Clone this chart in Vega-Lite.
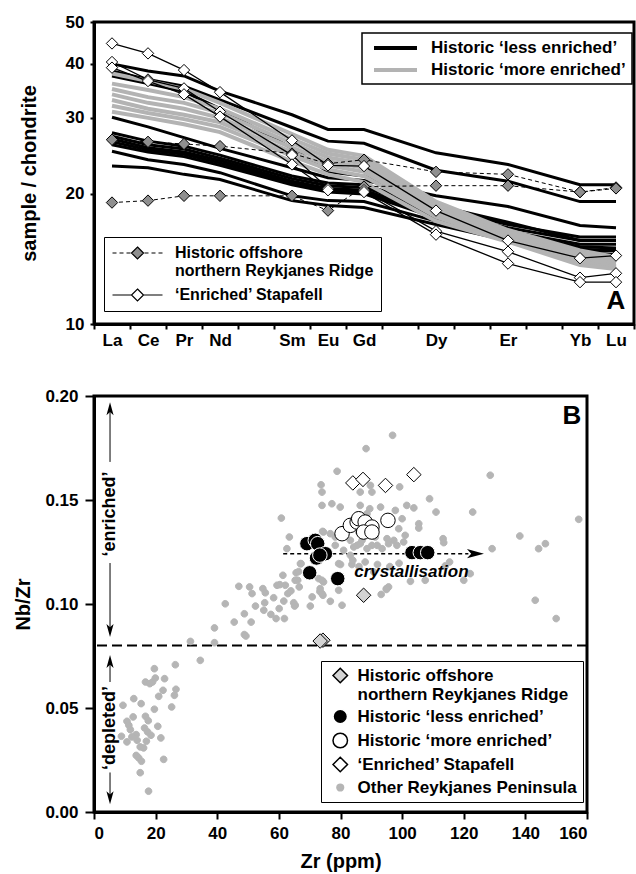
{
  "$schema": "https://vega.github.io/schema/vega-lite/v6.json",
  "background": "white",
  "padding": {"left": 12, "top": 11, "right": 0, "bottom": 2},
  "bounds": "flush",
  "spacing": 72,
  "resolve": {
    "scale": {"color": "independent", "fill": "independent", "shape": "independent", "stroke": "independent"},
    "legend": {"color": "independent", "fill": "independent", "shape": "independent", "stroke": "independent"}
  },
  "config": {
    "font": "Liberation Sans",
    "view": {"stroke": "black", "strokeWidth": 3},
    "axis": {"labelFont": "Liberation Sans", "labelFontWeight": "bold", "labelFontSize": 17, "labelColor": "black", "titleFont": "Liberation Sans", "titleFontWeight": "bold", "titleFontSize": 20, "titleColor": "black", "domainColor": "black", "domainWidth": 3, "tickColor": "black", "tickWidth": 2, "grid": false},
    "legend": {"labelFont": "Liberation Sans", "labelFontWeight": "bold", "labelFontSize": 17, "labelColor": "black", "strokeColor": "black", "labelLimit": 400}
  },
  "datasets": {
    "ree": [
      {"id": "B1", "g": "Historic ‘less enriched’", "La": 40.0, "Ce": 38.5, "Pr": 37.5, "Nd": 34.6, "Sm": 30.5, "Eu": 28.2, "Gd": 28.2, "Dy": 24.9, "Er": 23.4, "Yb": 21.0, "Lu": 21.0},
      {"id": "B2", "g": "Historic ‘less enriched’", "La": 38.5, "Ce": 36.8, "Pr": 35.5, "Nd": 33.0, "Sm": 28.5, "Eu": 26.5, "Gd": 26.2, "Dy": 22.7, "Er": 21.4, "Yb": 19.2, "Lu": 19.2},
      {"id": "B3", "g": "Historic ‘less enriched’", "La": 37.5, "Ce": 36.0, "Pr": 34.5, "Nd": 31.5, "Sm": 25.5, "Eu": 22.5, "Gd": 22.0, "Dy": 18.8, "Er": 17.2, "Yb": 15.6, "Lu": 15.6},
      {"id": "B4", "g": "Historic ‘less enriched’", "La": 30.1, "Ce": 28.6, "Pr": 27.0, "Nd": 25.5, "Sm": 23.0, "Eu": 21.8, "Gd": 21.5, "Dy": 19.8, "Er": 18.7, "Yb": 16.9, "Lu": 16.7},
      {"id": "B5", "g": "Historic ‘less enriched’", "La": 27.7, "Ce": 26.5, "Pr": 25.8, "Nd": 24.6, "Sm": 22.0, "Eu": 21.2, "Gd": 21.0, "Dy": 18.6, "Er": 17.0, "Yb": 15.9, "Lu": 15.9},
      {"id": "B6", "g": "Historic ‘less enriched’", "La": 27.2, "Ce": 26.0, "Pr": 25.4, "Nd": 24.2, "Sm": 21.7, "Eu": 20.9, "Gd": 20.7, "Dy": 18.3, "Er": 16.7, "Yb": 15.6, "Lu": 15.6},
      {"id": "B7", "g": "Historic ‘less enriched’", "La": 26.8, "Ce": 25.6, "Pr": 25.0, "Nd": 23.9, "Sm": 21.4, "Eu": 20.6, "Gd": 20.4, "Dy": 18.0, "Er": 16.4, "Yb": 15.3, "Lu": 15.3},
      {"id": "B8", "g": "Historic ‘less enriched’", "La": 26.4, "Ce": 25.3, "Pr": 24.7, "Nd": 23.6, "Sm": 21.2, "Eu": 20.4, "Gd": 20.2, "Dy": 17.8, "Er": 16.2, "Yb": 15.1, "Lu": 15.0},
      {"id": "B9", "g": "Historic ‘less enriched’", "La": 26.0, "Ce": 25.0, "Pr": 24.4, "Nd": 23.3, "Sm": 21.0, "Eu": 20.2, "Gd": 20.0, "Dy": 17.6, "Er": 16.0, "Yb": 14.9, "Lu": 14.8},
      {"id": "B10", "g": "Historic ‘less enriched’", "La": 25.1, "Ce": 24.0, "Pr": 23.4, "Nd": 22.4, "Sm": 19.8, "Eu": 19.3, "Gd": 19.2, "Dy": 17.3, "Er": 15.8, "Yb": 14.8, "Lu": 14.8},
      {"id": "B11", "g": "Historic ‘less enriched’", "La": 23.2, "Ce": 23.0, "Pr": 22.2, "Nd": 21.6, "Sm": 19.3, "Eu": 18.8, "Gd": 18.6, "Dy": 17.0, "Er": 15.6, "Yb": 14.6, "Lu": 14.5},
      {"id": "G1", "g": "Historic ‘more enriched’", "La": 38.0, "Ce": 36.5, "Pr": 35.0, "Nd": 32.5, "Sm": 27.5, "Eu": 25.3, "Gd": 24.5, "Dy": 19.2, "Er": 16.5, "Yb": 14.8, "Lu": 14.3},
      {"id": "G2", "g": "Historic ‘more enriched’", "La": 36.0, "Ce": 34.8, "Pr": 33.5, "Nd": 31.5, "Sm": 26.8, "Eu": 24.8, "Gd": 24.0, "Dy": 18.9, "Er": 16.3, "Yb": 14.6, "Lu": 14.1},
      {"id": "G3", "g": "Historic ‘more enriched’", "La": 35.0, "Ce": 33.5, "Pr": 32.5, "Nd": 30.8, "Sm": 26.2, "Eu": 24.3, "Gd": 23.5, "Dy": 18.6, "Er": 16.1, "Yb": 14.4, "Lu": 13.9},
      {"id": "G4", "g": "Historic ‘more enriched’", "La": 34.0, "Ce": 32.5, "Pr": 31.5, "Nd": 30.0, "Sm": 25.6, "Eu": 23.8, "Gd": 23.0, "Dy": 18.3, "Er": 15.9, "Yb": 14.2, "Lu": 13.8},
      {"id": "G5", "g": "Historic ‘more enriched’", "La": 33.0, "Ce": 31.5, "Pr": 30.5, "Nd": 29.3, "Sm": 25.0, "Eu": 23.3, "Gd": 22.5, "Dy": 18.0, "Er": 15.8, "Yb": 14.0, "Lu": 13.6},
      {"id": "G6", "g": "Historic ‘more enriched’", "La": 32.0, "Ce": 30.8, "Pr": 29.8, "Nd": 28.6, "Sm": 24.5, "Eu": 22.8, "Gd": 22.0, "Dy": 17.7, "Er": 15.6, "Yb": 13.9, "Lu": 13.5},
      {"id": "G7", "g": "Historic ‘more enriched’", "La": 31.0, "Ce": 30.0, "Pr": 29.0, "Nd": 27.8, "Sm": 23.8, "Eu": 22.2, "Gd": 21.3, "Dy": 17.3, "Er": 15.5, "Yb": 13.7, "Lu": 13.4},
      {"id": "O1", "g": "Historic offshore", "La": 26.7, "Ce": 26.4, "Pr": 26.1, "Nd": 25.8, "Sm": 24.8, "Eu": 23.5, "Gd": 24.0, "Dy": 22.5, "Er": 22.2, "Yb": 20.2, "Lu": 20.7},
      {"id": "O2", "g": "Historic offshore", "La": 19.1, "Ce": 19.3, "Pr": 19.8, "Nd": 19.8, "Sm": 19.8, "Eu": 18.3, "Gd": 20.8, "Dy": 20.9, "Er": 20.9, "Yb": 20.2, "Lu": 20.6},
      {"id": "S1", "g": "‘Enriched’ Stapafell", "La": 44.6, "Ce": 42.3, "Pr": 38.7, "Nd": 34.4, "Sm": 26.6, "Eu": 23.3, "Gd": 23.2, "Dy": 18.3, "Er": 15.6, "Yb": 14.2, "Lu": 14.4},
      {"id": "S2", "g": "‘Enriched’ Stapafell", "La": 40.4, "Ce": 36.8, "Pr": 35.1, "Nd": 31.0, "Sm": 24.6, "Eu": 20.6, "Gd": 20.4, "Dy": 16.4, "Er": 14.7, "Yb": 12.8, "Lu": 13.1},
      {"id": "S3", "g": "‘Enriched’ Stapafell", "La": 39.2, "Ce": 36.5, "Pr": 34.0, "Nd": 30.2, "Sm": 23.4, "Eu": 20.4, "Gd": 20.2, "Dy": 16.1, "Er": 13.8, "Yb": 12.5, "Lu": 12.5}
    ],
    "nbzr": [
      {"grp": "Other Reykjanes Peninsula", "zr": 42.6, "nbzr": 0.1001},
      {"grp": "Other Reykjanes Peninsula", "zr": 52.4, "nbzr": 0.099},
      {"grp": "Other Reykjanes Peninsula", "zr": 55.1, "nbzr": 0.097},
      {"grp": "Other Reykjanes Peninsula", "zr": 57.4, "nbzr": 0.095},
      {"grp": "Other Reykjanes Peninsula", "zr": 60.1, "nbzr": 0.0978},
      {"grp": "Other Reykjanes Peninsula", "zr": 59.1, "nbzr": 0.093},
      {"grp": "Other Reykjanes Peninsula", "zr": 61.8, "nbzr": 0.093},
      {"grp": "Other Reykjanes Peninsula", "zr": 65.1, "nbzr": 0.099},
      {"grp": "Other Reykjanes Peninsula", "zr": 70.2, "nbzr": 0.099},
      {"grp": "Other Reykjanes Peninsula", "zr": 45.5, "nbzr": 0.0913},
      {"grp": "Other Reykjanes Peninsula", "zr": 51.0, "nbzr": 0.0913},
      {"grp": "Other Reykjanes Peninsula", "zr": 48.8, "nbzr": 0.0953},
      {"grp": "Other Reykjanes Peninsula", "zr": 39.1, "nbzr": 0.0885},
      {"grp": "Other Reykjanes Peninsula", "zr": 48.8, "nbzr": 0.0853},
      {"grp": "Other Reykjanes Peninsula", "zr": 49.3, "nbzr": 0.0846},
      {"grp": "Other Reykjanes Peninsula", "zr": 31.3, "nbzr": 0.082},
      {"grp": "Other Reykjanes Peninsula", "zr": 39.1, "nbzr": 0.0814},
      {"grp": "Other Reykjanes Peninsula", "zr": 34.5, "nbzr": 0.0729},
      {"grp": "Other Reykjanes Peninsula", "zr": 26.4, "nbzr": 0.0708},
      {"grp": "Other Reykjanes Peninsula", "zr": 19.6, "nbzr": 0.0689},
      {"grp": "Other Reykjanes Peninsula", "zr": 16.7, "nbzr": 0.0625},
      {"grp": "Other Reykjanes Peninsula", "zr": 18.1, "nbzr": 0.0617},
      {"grp": "Other Reykjanes Peninsula", "zr": 19.0, "nbzr": 0.0625},
      {"grp": "Other Reykjanes Peninsula", "zr": 19.9, "nbzr": 0.0644},
      {"grp": "Other Reykjanes Peninsula", "zr": 22.9, "nbzr": 0.0641},
      {"grp": "Other Reykjanes Peninsula", "zr": 22.4, "nbzr": 0.0585},
      {"grp": "Other Reykjanes Peninsula", "zr": 26.6, "nbzr": 0.059},
      {"grp": "Other Reykjanes Peninsula", "zr": 21.0, "nbzr": 0.0556},
      {"grp": "Other Reykjanes Peninsula", "zr": 26.1, "nbzr": 0.0561},
      {"grp": "Other Reykjanes Peninsula", "zr": 12.9, "nbzr": 0.0545},
      {"grp": "Other Reykjanes Peninsula", "zr": 15.3, "nbzr": 0.0521},
      {"grp": "Other Reykjanes Peninsula", "zr": 9.4, "nbzr": 0.0513},
      {"grp": "Other Reykjanes Peninsula", "zr": 25.2, "nbzr": 0.0505},
      {"grp": "Other Reykjanes Peninsula", "zr": 19.6, "nbzr": 0.0494},
      {"grp": "Other Reykjanes Peninsula", "zr": 16.7, "nbzr": 0.046},
      {"grp": "Other Reykjanes Peninsula", "zr": 12.7, "nbzr": 0.0457},
      {"grp": "Other Reykjanes Peninsula", "zr": 17.6, "nbzr": 0.0439},
      {"grp": "Other Reykjanes Peninsula", "zr": 10.7, "nbzr": 0.0436},
      {"grp": "Other Reykjanes Peninsula", "zr": 11.3, "nbzr": 0.0417},
      {"grp": "Other Reykjanes Peninsula", "zr": 20.7, "nbzr": 0.0412},
      {"grp": "Other Reykjanes Peninsula", "zr": 11.8, "nbzr": 0.0396},
      {"grp": "Other Reykjanes Peninsula", "zr": 16.4, "nbzr": 0.0404},
      {"grp": "Other Reykjanes Peninsula", "zr": 17.4, "nbzr": 0.0385},
      {"grp": "Other Reykjanes Peninsula", "zr": 18.5, "nbzr": 0.0369},
      {"grp": "Other Reykjanes Peninsula", "zr": 13.7, "nbzr": 0.0372},
      {"grp": "Other Reykjanes Peninsula", "zr": 8.9, "nbzr": 0.0364},
      {"grp": "Other Reykjanes Peninsula", "zr": 12.3, "nbzr": 0.0361},
      {"grp": "Other Reykjanes Peninsula", "zr": 21.7, "nbzr": 0.0356},
      {"grp": "Other Reykjanes Peninsula", "zr": 14.0, "nbzr": 0.0345},
      {"grp": "Other Reykjanes Peninsula", "zr": 10.7, "nbzr": 0.0337},
      {"grp": "Other Reykjanes Peninsula", "zr": 17.0, "nbzr": 0.034},
      {"grp": "Other Reykjanes Peninsula", "zr": 15.0, "nbzr": 0.0313},
      {"grp": "Other Reykjanes Peninsula", "zr": 16.1, "nbzr": 0.0308},
      {"grp": "Other Reykjanes Peninsula", "zr": 13.7, "nbzr": 0.0272},
      {"grp": "Other Reykjanes Peninsula", "zr": 14.5, "nbzr": 0.026},
      {"grp": "Other Reykjanes Peninsula", "zr": 15.4, "nbzr": 0.0244},
      {"grp": "Other Reykjanes Peninsula", "zr": 22.6, "nbzr": 0.0253},
      {"grp": "Other Reykjanes Peninsula", "zr": 15.0, "nbzr": 0.0189},
      {"grp": "Other Reykjanes Peninsula", "zr": 17.7, "nbzr": 0.010},
      {"grp": "Other Reykjanes Peninsula", "zr": 62.6, "nbzr": 0.1266},
      {"grp": "Other Reykjanes Peninsula", "zr": 61.3, "nbzr": 0.1138},
      {"grp": "Other Reykjanes Peninsula", "zr": 65.6, "nbzr": 0.115},
      {"grp": "Other Reykjanes Peninsula", "zr": 66.1, "nbzr": 0.1114},
      {"grp": "Other Reykjanes Peninsula", "zr": 66.6, "nbzr": 0.1082},
      {"grp": "Other Reykjanes Peninsula", "zr": 47.0, "nbzr": 0.1085},
      {"grp": "Other Reykjanes Peninsula", "zr": 50.5, "nbzr": 0.1082},
      {"grp": "Other Reykjanes Peninsula", "zr": 51.3, "nbzr": 0.105},
      {"grp": "Other Reykjanes Peninsula", "zr": 54.8, "nbzr": 0.1074},
      {"grp": "Other Reykjanes Peninsula", "zr": 55.6, "nbzr": 0.1054},
      {"grp": "Other Reykjanes Peninsula", "zr": 60.3, "nbzr": 0.1093},
      {"grp": "Other Reykjanes Peninsula", "zr": 62.1, "nbzr": 0.109},
      {"grp": "Other Reykjanes Peninsula", "zr": 62.9, "nbzr": 0.105},
      {"grp": "Other Reykjanes Peninsula", "zr": 63.9, "nbzr": 0.1063},
      {"grp": "Other Reykjanes Peninsula", "zr": 58.3, "nbzr": 0.103},
      {"grp": "Other Reykjanes Peninsula", "zr": 55.4, "nbzr": 0.1006},
      {"grp": "Other Reykjanes Peninsula", "zr": 61.6, "nbzr": 0.1014},
      {"grp": "Other Reykjanes Peninsula", "zr": 64.8, "nbzr": 0.1006},
      {"grp": "Other Reykjanes Peninsula", "zr": 65.3, "nbzr": 0.0994},
      {"grp": "Other Reykjanes Peninsula", "zr": 74.5, "nbzr": 0.1106},
      {"grp": "Other Reykjanes Peninsula", "zr": 73.3, "nbzr": 0.106},
      {"grp": "Other Reykjanes Peninsula", "zr": 70.8, "nbzr": 0.1034},
      {"grp": "Other Reykjanes Peninsula", "zr": 74.3, "nbzr": 0.1042},
      {"grp": "Other Reykjanes Peninsula", "zr": 72.9, "nbzr": 0.1122},
      {"grp": "Other Reykjanes Peninsula", "zr": 67.0, "nbzr": 0.1194},
      {"grp": "Other Reykjanes Peninsula", "zr": 129.2, "nbzr": 0.1266},
      {"grp": "Other Reykjanes Peninsula", "zr": 144.3, "nbzr": 0.1266},
      {"grp": "Other Reykjanes Peninsula", "zr": 146.5, "nbzr": 0.129},
      {"grp": "Other Reykjanes Peninsula", "zr": 143.2, "nbzr": 0.1018},
      {"grp": "Other Reykjanes Peninsula", "zr": 150.0, "nbzr": 0.093},
      {"grp": "Other Reykjanes Peninsula", "zr": 122.1, "nbzr": 0.1146},
      {"grp": "Other Reykjanes Peninsula", "zr": 120.0, "nbzr": 0.1114},
      {"grp": "Other Reykjanes Peninsula", "zr": 114.0, "nbzr": 0.1183},
      {"grp": "Other Reykjanes Peninsula", "zr": 107.5, "nbzr": 0.1114},
      {"grp": "Other Reykjanes Peninsula", "zr": 102.7, "nbzr": 0.1109},
      {"grp": "Other Reykjanes Peninsula", "zr": 95.6, "nbzr": 0.1082},
      {"grp": "Other Reykjanes Peninsula", "zr": 94.9, "nbzr": 0.1074},
      {"grp": "Other Reykjanes Peninsula", "zr": 93.2, "nbzr": 0.1046},
      {"grp": "Other Reykjanes Peninsula", "zr": 80.5, "nbzr": 0.0994},
      {"grp": "Other Reykjanes Peninsula", "zr": 76.7, "nbzr": 0.1013},
      {"grp": "Other Reykjanes Peninsula", "zr": 74.0, "nbzr": 0.105},
      {"grp": "Other Reykjanes Peninsula", "zr": 79.4, "nbzr": 0.1066},
      {"grp": "Other Reykjanes Peninsula", "zr": 78.3, "nbzr": 0.1282},
      {"grp": "Other Reykjanes Peninsula", "zr": 81.0, "nbzr": 0.1258},
      {"grp": "Other Reykjanes Peninsula", "zr": 83.2, "nbzr": 0.1234},
      {"grp": "Other Reykjanes Peninsula", "zr": 85.4, "nbzr": 0.1282},
      {"grp": "Other Reykjanes Peninsula", "zr": 88.6, "nbzr": 0.1266},
      {"grp": "Other Reykjanes Peninsula", "zr": 91.9, "nbzr": 0.1282},
      {"grp": "Other Reykjanes Peninsula", "zr": 83.7, "nbzr": 0.119},
      {"grp": "Other Reykjanes Peninsula", "zr": 80.0, "nbzr": 0.119},
      {"grp": "Other Reykjanes Peninsula", "zr": 86.4, "nbzr": 0.129},
      {"grp": "Other Reykjanes Peninsula", "zr": 96.9, "nbzr": 0.1811},
      {"grp": "Other Reykjanes Peninsula", "zr": 88.3, "nbzr": 0.1747},
      {"grp": "Other Reykjanes Peninsula", "zr": 78.9, "nbzr": 0.1638},
      {"grp": "Other Reykjanes Peninsula", "zr": 73.7, "nbzr": 0.1573},
      {"grp": "Other Reykjanes Peninsula", "zr": 74.0, "nbzr": 0.1538},
      {"grp": "Other Reykjanes Peninsula", "zr": 89.7, "nbzr": 0.157},
      {"grp": "Other Reykjanes Peninsula", "zr": 90.2, "nbzr": 0.1538},
      {"grp": "Other Reykjanes Peninsula", "zr": 86.4, "nbzr": 0.1538},
      {"grp": "Other Reykjanes Peninsula", "zr": 99.2, "nbzr": 0.1563},
      {"grp": "Other Reykjanes Peninsula", "zr": 108.9, "nbzr": 0.1506},
      {"grp": "Other Reykjanes Peninsula", "zr": 111.0, "nbzr": 0.1442},
      {"grp": "Other Reykjanes Peninsula", "zr": 122.9, "nbzr": 0.1442},
      {"grp": "Other Reykjanes Peninsula", "zr": 128.6, "nbzr": 0.1619},
      {"grp": "Other Reykjanes Peninsula", "zr": 157.3, "nbzr": 0.1407},
      {"grp": "Other Reykjanes Peninsula", "zr": 138.2, "nbzr": 0.1327},
      {"grp": "Other Reykjanes Peninsula", "zr": 74.0, "nbzr": 0.1474},
      {"grp": "Other Reykjanes Peninsula", "zr": 77.2, "nbzr": 0.1482},
      {"grp": "Other Reykjanes Peninsula", "zr": 79.9, "nbzr": 0.1466},
      {"grp": "Other Reykjanes Peninsula", "zr": 86.4, "nbzr": 0.1474},
      {"grp": "Other Reykjanes Peninsula", "zr": 89.5, "nbzr": 0.1458},
      {"grp": "Other Reykjanes Peninsula", "zr": 93.0, "nbzr": 0.1466},
      {"grp": "Other Reykjanes Peninsula", "zr": 97.8, "nbzr": 0.145},
      {"grp": "Other Reykjanes Peninsula", "zr": 101.5, "nbzr": 0.1474},
      {"grp": "Other Reykjanes Peninsula", "zr": 103.8, "nbzr": 0.1462},
      {"grp": "Other Reykjanes Peninsula", "zr": 88.6, "nbzr": 0.1434},
      {"grp": "Other Reykjanes Peninsula", "zr": 100.0, "nbzr": 0.141},
      {"grp": "Other Reykjanes Peninsula", "zr": 105.4, "nbzr": 0.1386},
      {"grp": "Other Reykjanes Peninsula", "zr": 105.4, "nbzr": 0.1365},
      {"grp": "Other Reykjanes Peninsula", "zr": 113.3, "nbzr": 0.1314},
      {"grp": "Other Reykjanes Peninsula", "zr": 113.5, "nbzr": 0.1295},
      {"grp": "Other Reykjanes Peninsula", "zr": 101.0, "nbzr": 0.133},
      {"grp": "Other Reykjanes Peninsula", "zr": 98.9, "nbzr": 0.1362},
      {"grp": "Other Reykjanes Peninsula", "zr": 97.3, "nbzr": 0.1306},
      {"grp": "Other Reykjanes Peninsula", "zr": 95.1, "nbzr": 0.1314},
      {"grp": "Other Reykjanes Peninsula", "zr": 74.5, "nbzr": 0.1346},
      {"grp": "Other Reykjanes Peninsula", "zr": 76.7, "nbzr": 0.1338},
      {"grp": "Other Reykjanes Peninsula", "zr": 78.3, "nbzr": 0.1322},
      {"grp": "Other Reykjanes Peninsula", "zr": 84.3, "nbzr": 0.1274},
      {"grp": "Other Reykjanes Peninsula", "zr": 87.0, "nbzr": 0.1306},
      {"grp": "Other Reykjanes Peninsula", "zr": 83.2, "nbzr": 0.1306},
      {"grp": "Other Reykjanes Peninsula", "zr": 85.9, "nbzr": 0.1346},
      {"grp": "Other Reykjanes Peninsula", "zr": 91.3, "nbzr": 0.1322},
      {"grp": "Other Reykjanes Peninsula", "zr": 90.2, "nbzr": 0.1282},
      {"grp": "Other Reykjanes Peninsula", "zr": 93.5, "nbzr": 0.1266},
      {"grp": "Other Reykjanes Peninsula", "zr": 95.6, "nbzr": 0.129},
      {"grp": "Other Reykjanes Peninsula", "zr": 98.3, "nbzr": 0.1282},
      {"grp": "Other Reykjanes Peninsula", "zr": 100.5, "nbzr": 0.1298},
      {"grp": "Other Reykjanes Peninsula", "zr": 60.8, "nbzr": 0.1413},
      {"grp": "Other Reykjanes Peninsula", "zr": 63.4, "nbzr": 0.1322},
      {"grp": "Other Reykjanes Peninsula", "zr": 67.2, "nbzr": 0.1194},
      {"grp": "Other Reykjanes Peninsula", "zr": 66.4, "nbzr": 0.1156},
      {"grp": "Other Reykjanes Peninsula", "zr": 59.4, "nbzr": 0.109},
      {"grp": "Other Reykjanes Peninsula", "zr": 65.3, "nbzr": 0.1114},
      {"grp": "Other Reykjanes Peninsula", "zr": 74.0, "nbzr": 0.1114},
      {"grp": "Other Reykjanes Peninsula", "zr": 73.4, "nbzr": 0.1074},
      {"grp": "Other Reykjanes Peninsula", "zr": 74.2, "nbzr": 0.1349},
      {"grp": "Other Reykjanes Peninsula", "zr": 84.0, "nbzr": 0.121},
      {"grp": "Other Reykjanes Peninsula", "zr": 88.0, "nbzr": 0.1202},
      {"grp": "Other Reykjanes Peninsula", "zr": 92.0, "nbzr": 0.119},
      {"grp": "Other Reykjanes Peninsula", "zr": 86.0, "nbzr": 0.118},
      {"grp": "Other Reykjanes Peninsula", "zr": 90.8, "nbzr": 0.1154},
      {"grp": "Other Reykjanes Peninsula", "zr": 94.9, "nbzr": 0.107},
      {"grp": "Other Reykjanes Peninsula", "zr": 96.0, "nbzr": 0.118},
      {"grp": "Other Reykjanes Peninsula", "zr": 99.0, "nbzr": 0.1196},
      {"grp": "Other Reykjanes Peninsula", "zr": 115.4, "nbzr": 0.1202},
      {"grp": "Other Reykjanes Peninsula", "zr": 79.4, "nbzr": 0.1194},
      {"grp": "Historic offshore", "zr": 87.5, "nbzr": 0.1042},
      {"grp": "Historic offshore", "zr": 74.3, "nbzr": 0.0826},
      {"grp": "Historic offshore", "zr": 73.4, "nbzr": 0.0822},
      {"grp": "Historic ‘less enriched’", "zr": 69.1, "nbzr": 0.129},
      {"grp": "Historic ‘less enriched’", "zr": 71.8, "nbzr": 0.1306},
      {"grp": "Historic ‘less enriched’", "zr": 72.6, "nbzr": 0.129},
      {"grp": "Historic ‘less enriched’", "zr": 72.2, "nbzr": 0.1221},
      {"grp": "Historic ‘less enriched’", "zr": 70.0, "nbzr": 0.115},
      {"grp": "Historic ‘less enriched’", "zr": 75.1, "nbzr": 0.1242},
      {"grp": "Historic ‘less enriched’", "zr": 73.3, "nbzr": 0.1235},
      {"grp": "Historic ‘less enriched’", "zr": 79.1, "nbzr": 0.1122},
      {"grp": "Historic ‘less enriched’", "zr": 103.2, "nbzr": 0.1247},
      {"grp": "Historic ‘less enriched’", "zr": 105.9, "nbzr": 0.1247},
      {"grp": "Historic ‘less enriched’", "zr": 108.3, "nbzr": 0.1247},
      {"grp": "Historic ‘more enriched’", "zr": 80.5, "nbzr": 0.1338},
      {"grp": "Historic ‘more enriched’", "zr": 83.2, "nbzr": 0.1378},
      {"grp": "Historic ‘more enriched’", "zr": 85.4, "nbzr": 0.1394},
      {"grp": "Historic ‘more enriched’", "zr": 85.9, "nbzr": 0.141},
      {"grp": "Historic ‘more enriched’", "zr": 88.0, "nbzr": 0.1394},
      {"grp": "Historic ‘more enriched’", "zr": 90.2, "nbzr": 0.137},
      {"grp": "Historic ‘more enriched’", "zr": 87.5, "nbzr": 0.1346},
      {"grp": "Historic ‘more enriched’", "zr": 90.2, "nbzr": 0.1346},
      {"grp": "Historic ‘more enriched’", "zr": 95.4, "nbzr": 0.1402},
      {"grp": "‘Enriched’ Stapafell", "zr": 84.0, "nbzr": 0.1582},
      {"grp": "‘Enriched’ Stapafell", "zr": 87.3, "nbzr": 0.1599},
      {"grp": "‘Enriched’ Stapafell", "zr": 94.6, "nbzr": 0.157},
      {"grp": "‘Enriched’ Stapafell", "zr": 103.8, "nbzr": 0.1622}
    ]
  },
  "vconcat": [
    {
      "width": 540,
      "height": 302,
      "encoding": {
        "x": {"field": "el", "type": "ordinal", "scale": {"type": "band", "domain": ["La", "Ce", "Pr", "Nd", "Pm", "Sm", "Eu", "Gd", "Tb", "Dy", "Ho", "Er", "Tm", "Yb", "Lu"], "paddingInner": 0, "paddingOuter": 0}, "axis": {"title": null, "tickBand": "extent", "labelAngle": 0, "tickSize": 5, "labelPadding": 3, "labelExpr": "indexof(['Pm','Tb','Ho','Tm'], datum.value) >= 0 ? '' : datum.value"}},
        "y": {"field": "v", "type": "quantitative", "scale": {"type": "log", "domain": [10, 50], "nice": false}, "axis": {"title": "sample / chondrite", "values": [10, 20, 30, 40, 50], "format": "d", "tickSize": 4, "labelPadding": 6, "titlePadding": 26}}
      },
      "layer": [
        {
          "data": {"name": "ree"},
          "transform": [{"filter": "datum.g === 'Historic ‘less enriched’'"}, {"fold": ["La", "Ce", "Pr", "Nd", "Sm", "Eu", "Gd", "Dy", "Er", "Yb", "Lu"], "as": ["el", "v"]}],
          "mark": {"type": "line", "strokeWidth": 3},
          "encoding": {
            "detail": {"field": "id"},
            "color": {"field": "g", "type": "nominal", "scale": {"domain": ["Historic ‘less enriched’", "Historic ‘more enriched’"], "range": ["black", "#b3b3b3"]}, "legend": {"title": null, "orient": "none", "legendX": 268, "legendY": 11, "symbolType": "M-3.07,0H3.07", "symbolSize": 196, "symbolStrokeWidth": 4, "symbolOffset": 18.5, "padding": 6, "labelOffset": 26.5, "rowPadding": 5, "labelFontSize": 17, "encode": {"legend": {"update": {"strokeWidth": {"value": 1.5}}}}}}
          }
        },
        {
          "data": {"name": "ree"},
          "transform": [{"filter": "datum.g === 'Historic ‘more enriched’'"}, {"fold": ["La", "Ce", "Pr", "Nd", "Sm", "Eu", "Gd", "Dy", "Er", "Yb", "Lu"], "as": ["el", "v"]}],
          "mark": {"type": "line", "strokeWidth": 4},
          "encoding": {
            "detail": {"field": "id"},
            "color": {"field": "g", "type": "nominal"}
          }
        },
        {
          "data": {"name": "ree"},
          "transform": [{"filter": "datum.g === 'Historic offshore'"}, {"fold": ["La", "Ce", "Pr", "Nd", "Sm", "Eu", "Gd", "Dy", "Er", "Yb", "Lu"], "as": ["el", "v"]}],
          "mark": {"type": "line", "strokeWidth": 1, "color": "black", "strokeDash": [4, 3]},
          "encoding": {"detail": {"field": "id"}}
        },
        {
          "data": {"name": "ree"},
          "transform": [{"filter": "datum.g === '‘Enriched’ Stapafell'"}, {"fold": ["La", "Ce", "Pr", "Nd", "Sm", "Eu", "Gd", "Dy", "Er", "Yb", "Lu"], "as": ["el", "v"]}],
          "mark": {"type": "line", "strokeWidth": 1.3, "color": "black"},
          "encoding": {"detail": {"field": "id"}}
        },
        {
          "data": {"name": "ree"},
          "transform": [{"filter": "datum.g === 'Historic offshore' || datum.g === '‘Enriched’ Stapafell'"}, {"fold": ["La", "Ce", "Pr", "Nd", "Sm", "Eu", "Gd", "Dy", "Er", "Yb", "Lu"], "as": ["el", "v"]}],
          "mark": {"type": "point", "shape": "diamond", "filled": true, "size": 130, "stroke": "black", "strokeWidth": 1, "opacity": 1},
          "encoding": {
            "fill": {"field": "g", "type": "nominal", "scale": {"domain": ["Historic offshore", "‘Enriched’ Stapafell"], "range": ["#8f8f8f", "white"]}, "legend": {"title": null, "orient": "none", "legendX": 10, "legendY": 215, "symbolSize": 256, "symbolOffset": 17.5, "symbolStrokeColor": "black", "symbolStrokeWidth": 1.2, "padding": 7, "labelOffset": 28.5, "rowPadding": 7, "labelFontSize": 16, "labelExpr": "datum.label === 'Historic offshore' ? ['Historic offshore', 'northern Reykjanes Ridge'] : datum.label", "encode": {"legend": {"update": {"strokeWidth": {"value": 1.5}}}, "labels": {"update": {"lineHeight": {"value": 20}}}}}}
          }
        },
        {
          "data": {"values": []},
          "mark": {"type": "point", "filled": true, "size": 256, "stroke": "black", "strokeWidth": 1.2, "opacity": 1},
          "encoding": {
            "shape": {"field": "g", "type": "nominal", "scale": {"domain": ["Historic offshore", "‘Enriched’ Stapafell"], "range": ["M-3.125,0H-2.625M-2.25,0H-1.75M-1.375,0H-0.875M0.875,0H1.375M1.75,0H2.25M2.625,0H3.125M0,-0.75L0.75,0L0,0.75L-0.75,0Z", "M-3.125,0H-0.75M0.75,0H3.125M0,-0.75L0.75,0L0,0.75L-0.75,0Z"]}, "legend": {"title": null, "orient": "none", "legendX": 10, "legendY": 215, "symbolSize": 256, "symbolOffset": 17.5, "symbolStrokeColor": "black", "symbolStrokeWidth": 1.2, "padding": 7, "labelOffset": 28.5, "rowPadding": 7, "labelFontSize": 16, "labelExpr": "datum.label === 'Historic offshore' ? ['Historic offshore', 'northern Reykjanes Ridge'] : datum.label", "encode": {"legend": {"update": {"strokeWidth": {"value": 1.5}}}, "labels": {"update": {"lineHeight": {"value": 20}}}}}},
            "fill": {"field": "g", "type": "nominal"}
          }
        },
        {
          "data": {"values": [{"el": "Lu", "v": 11.3, "t": "A"}]},
          "mark": {"type": "text", "fontSize": 26, "fontWeight": "bold", "font": "Liberation Sans", "align": "center", "baseline": "middle", "color": "black"},
          "encoding": {"text": {"field": "t"}}
        }
      ]
    },
    {
      "width": 493,
      "height": 416,
      "encoding": {
        "x": {"field": "zr", "type": "quantitative", "scale": {"domain": [0, 160], "nice": false}, "axis": {"title": "Zr (ppm)", "values": [0, 20, 40, 60, 80, 100, 120, 140, 160], "tickSize": 7, "labelPadding": 6, "titlePadding": 10}},
        "y": {"field": "nbzr", "type": "quantitative", "scale": {"domain": [0, 0.2], "nice": false}, "axis": {"title": "Nb/Zr", "values": [0, 0.05, 0.1, 0.15, 0.2], "format": ".2f", "tickSize": 9, "labelPadding": 7, "titlePadding": 11}}
      },
      "layer": [
        {
          "data": {"values": [{"nbzr": 0.08}]},
          "mark": {"type": "rule", "strokeWidth": 2, "strokeDash": [10, 5], "color": "black"},
          "encoding": {"x": null}
        },
        {
          "data": {"values": [{"zr": 61.4, "zr2": 121.5, "nbzr": 0.1242}]},
          "mark": {"type": "rule", "strokeWidth": 1.5, "strokeDash": [4, 3], "color": "black"},
          "encoding": {"x2": {"field": "zr2"}}
        },
        {
          "data": {"name": "nbzr"},
          "mark": {"type": "point", "filled": true, "strokeWidth": 1, "opacity": 1, "size": 210},
          "encoding": {
            "shape": {"field": "grp", "type": "nominal", "scale": {"domain": ["Historic offshore", "Historic ‘less enriched’", "Historic ‘more enriched’", "‘Enriched’ Stapafell", "Other Reykjanes Peninsula"], "range": ["diamond", "circle", "circle", "diamond", "M0.46,0A0.46,0.46 0 1,1 -0.46,0A0.46,0.46 0 1,1 0.46,0Z"]}, "legend": {"title": null, "orient": "none", "legendX": 227, "legendY": 265, "symbolSize": 210, "symbolOffset": 4.75, "padding": 6, "labelOffset": 8.75, "rowPadding": 3, "labelFontSize": 17, "labelExpr": "datum.label === 'Historic offshore' ? ['Historic offshore', 'northern Reykjanes Ridge'] : datum.label", "encode": {"legend": {"update": {"strokeWidth": {"value": 1.5}}}, "labels": {"update": {"lineHeight": {"value": 14}}}}}},
            "fill": {"field": "grp", "type": "nominal", "scale": {"domain": ["Historic offshore", "Historic ‘less enriched’", "Historic ‘more enriched’", "‘Enriched’ Stapafell", "Other Reykjanes Peninsula"], "range": ["#d4d4d4", "black", "white", "white", "#b5b5b5"]}, "legend": {"title": null, "orient": "none", "legendX": 227, "legendY": 265, "symbolSize": 210, "symbolOffset": 4.75, "padding": 6, "labelOffset": 8.75, "rowPadding": 3, "labelFontSize": 17, "labelExpr": "datum.label === 'Historic offshore' ? ['Historic offshore', 'northern Reykjanes Ridge'] : datum.label", "encode": {"legend": {"update": {"strokeWidth": {"value": 1.5}}}, "labels": {"update": {"lineHeight": {"value": 14}}}}}},
            "stroke": {"field": "grp", "type": "nominal", "scale": {"domain": ["Historic offshore", "Historic ‘less enriched’", "Historic ‘more enriched’", "‘Enriched’ Stapafell", "Other Reykjanes Peninsula"], "range": ["black", "white", "black", "black", "#b5b5b5"]}, "legend": {"title": null, "orient": "none", "legendX": 227, "legendY": 265, "symbolSize": 210, "symbolOffset": 4.75, "padding": 6, "labelOffset": 8.75, "rowPadding": 3, "labelFontSize": 17, "labelExpr": "datum.label === 'Historic offshore' ? ['Historic offshore', 'northern Reykjanes Ridge'] : datum.label", "encode": {"legend": {"update": {"strokeWidth": {"value": 1.5}}}, "labels": {"update": {"lineHeight": {"value": 14}}}}}}
          }
        },
        {
          "data": {"values": [{"zr": 123.8, "nbzr": 0.1242}]},
          "mark": {"type": "point", "filled": true, "color": "black", "opacity": 1, "size": 289, "shape": "M1,0L-1,-0.55L-0.5,0L-1,0.55Z"}
        },
        {
          "data": {"values": [{"zr": 5.2, "nbzr": 0.193, "nbzr2": 0.1683}, {"zr": 5.2, "nbzr": 0.1197, "nbzr2": 0.088}, {"zr": 5.2, "nbzr": 0.072, "nbzr2": 0.0625}, {"zr": 5.2, "nbzr": 0.019, "nbzr2": 0.007}]},
          "mark": {"type": "rule", "strokeWidth": 1, "color": "black"},
          "encoding": {"y2": {"field": "nbzr2"}}
        },
        {
          "data": {"values": [{"zr": 5.2, "nbzr": 0.1939}, {"zr": 5.2, "nbzr": 0.0724}]},
          "mark": {"type": "point", "filled": true, "color": "black", "opacity": 1, "size": 169, "shape": "M0,-1L0.55,1L0,0.5L-0.55,1Z"}
        },
        {
          "data": {"values": [{"zr": 5.2, "nbzr": 0.0872}, {"zr": 5.2, "nbzr": 0.0069}]},
          "mark": {"type": "point", "filled": true, "color": "black", "opacity": 1, "size": 169, "shape": "M0,1L0.55,-1L0,-0.5L-0.55,-1Z"}
        },
        {
          "data": {"values": [{"zr": 5.2, "nbzr": 0.1433, "t": "‘enriched’"}, {"zr": 5.2, "nbzr": 0.0404, "t": "‘depleted’"}]},
          "mark": {"type": "text", "angle": 270, "fontSize": 18, "fontWeight": "bold", "font": "Liberation Sans", "align": "center", "baseline": "middle", "color": "black"},
          "encoding": {"text": {"field": "t"}}
        },
        {
          "data": {"values": [{"zr": 103, "nbzr": 0.1154, "t": "crystallisation"}]},
          "mark": {"type": "text", "fontSize": 17, "fontWeight": "bold", "fontStyle": "italic", "font": "Liberation Sans", "align": "center", "baseline": "middle", "color": "black"},
          "encoding": {"text": {"field": "t"}}
        },
        {
          "data": {"values": [{"zr": 155.1, "nbzr": 0.1904, "t": "B"}]},
          "mark": {"type": "text", "fontSize": 26, "fontWeight": "bold", "font": "Liberation Sans", "align": "center", "baseline": "middle", "color": "black"},
          "encoding": {"text": {"field": "t"}}
        }
      ]
    }
  ]
}
